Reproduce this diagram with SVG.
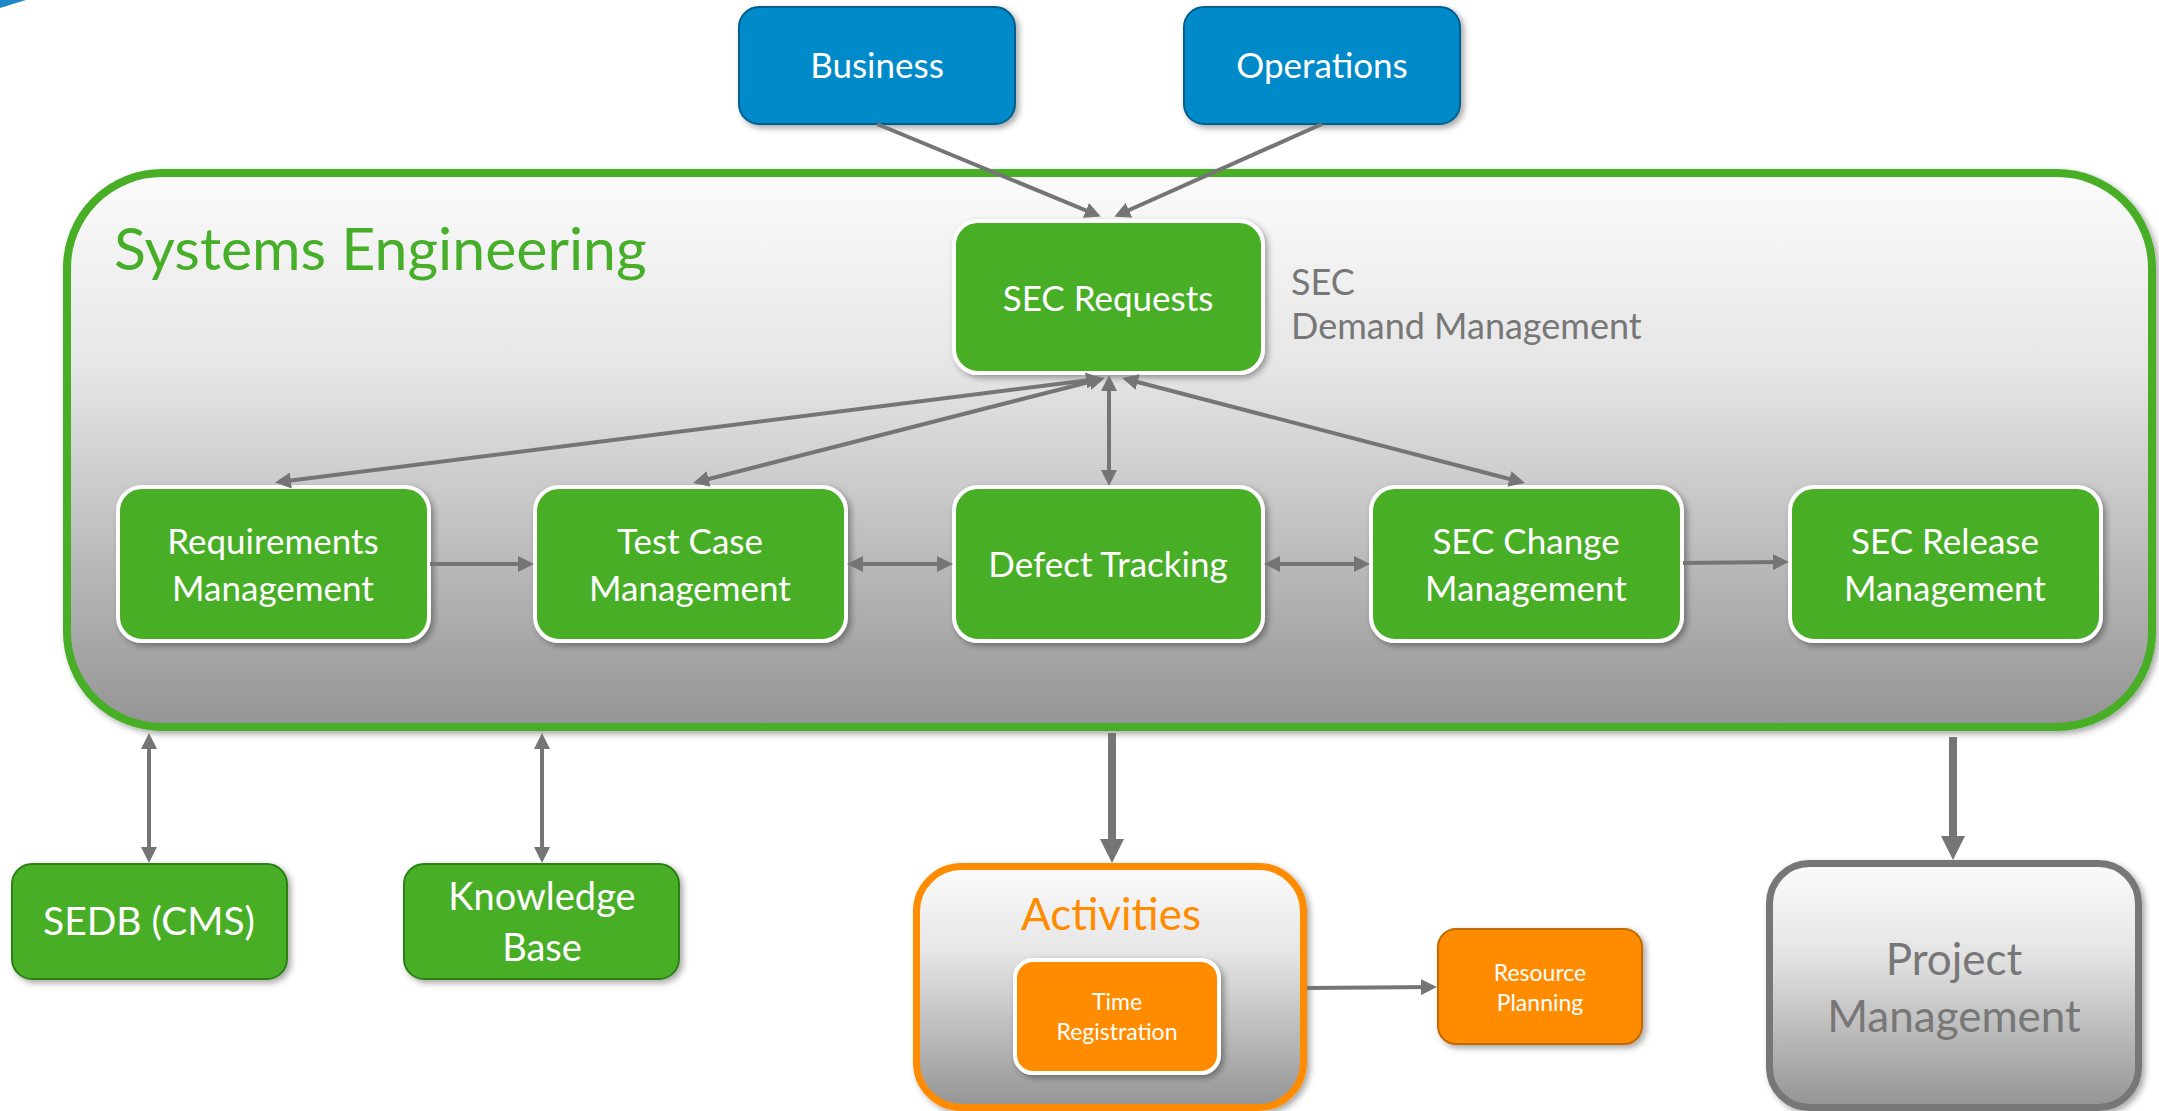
<svg xmlns="http://www.w3.org/2000/svg" width="2159" height="1111" viewBox="0 0 2159 1111">
<defs>
<linearGradient id="gray" x1="0" y1="0" x2="0" y2="1">
<stop offset="0" stop-color="#FBFBFB"/>
<stop offset="0.35" stop-color="#E6E6E6"/>
<stop offset="1" stop-color="#949494"/>
</linearGradient>
<filter id="sh" x="-10%" y="-10%" width="130%" height="130%">
<feDropShadow dx="3" dy="3" stdDeviation="3" flood-color="#000" flood-opacity="0.35"/>
</filter>
<marker id="ah" viewBox="0 0 16 16" refX="12" refY="8" markerWidth="16" markerHeight="16" markerUnits="userSpaceOnUse" orient="auto-start-reverse">
<path d="M0,0 L16,8 L0,16 z" fill="#757575"/>
</marker>
<marker id="ahb" viewBox="0 0 24 24" refX="16" refY="12" markerWidth="24" markerHeight="24" markerUnits="userSpaceOnUse" orient="auto">
<path d="M0,0 L24,12 L0,24 z" fill="#757575"/>
</marker>
<style>
text{font-family:Lato,"Open Sans","Liberation Sans",sans-serif;text-anchor:middle}
.w{fill:#FFFFFF}
.gn{fill:#46AE28;stroke:#FFFFFF;stroke-width:4}
.gd{fill:#46AE28;stroke:#2F7F19;stroke-width:2}
.bl{fill:#008AC9;stroke:#005F8E;stroke-width:2}
.or{fill:#FF8C00;stroke:#FFFFFF;stroke-width:4}
.ord{fill:#FF8C00;stroke:#C26A00;stroke-width:2}
.c{fill:none;stroke:#757575;stroke-width:4}
.cb{fill:none;stroke:#757575;stroke-width:8}
.lbl{font-size:35px;fill:#FFFFFF}
.sm{font-size:23px;fill:#FFFFFF}
</style>
</defs>
<rect width="2159" height="1111" fill="#FFFFFF"/>
<path d="M0,0 L26,0 L0,8 z" fill="#1E88C8"/>

<g id="systems-engineering">
<rect x="67" y="173" width="2085" height="554" rx="95" fill="url(#gray)" stroke="#46AE28" stroke-width="8" filter="url(#sh)"/>
<text x="114" y="270" style="text-anchor:start;font-size:59px;fill:#46AE28">Systems Engineering</text>
<text x="1291" y="295" style="text-anchor:start;font-size:36px;fill:#777777">SEC</text>
<text x="1291" y="339" style="text-anchor:start;font-size:36px;fill:#777777">Demand Management</text>
</g>

<g id="business">
<rect x="739" y="7" width="276" height="117" rx="20" class="bl" filter="url(#sh)"/>
<text x="877" y="78" class="lbl">Business</text>
</g>
<g id="operations">
<rect x="1184" y="7" width="276" height="117" rx="20" class="bl" filter="url(#sh)"/>
<text x="1322" y="78" class="lbl">Operations</text>
</g>

<g id="sec-requests">
<rect x="954" y="221" width="309" height="152" rx="24" class="gn" filter="url(#sh)"/>
<text x="1108" y="311" class="lbl">SEC Requests</text>
</g>
<g id="requirements-management">
<rect x="118" y="487" width="311" height="154" rx="24" class="gn" filter="url(#sh)"/>
<text x="273" y="554" class="lbl">Requirements</text>
<text x="273" y="601" class="lbl">Management</text>
</g>
<g id="test-case-management">
<rect x="535" y="487" width="311" height="154" rx="24" class="gn" filter="url(#sh)"/>
<text x="690" y="554" class="lbl">Test Case</text>
<text x="690" y="601" class="lbl">Management</text>
</g>
<g id="defect-tracking">
<rect x="954" y="487" width="309" height="154" rx="24" class="gn" filter="url(#sh)"/>
<text x="1108" y="577" class="lbl">Defect Tracking</text>
</g>
<g id="sec-change-management">
<rect x="1371" y="487" width="311" height="154" rx="24" class="gn" filter="url(#sh)"/>
<text x="1526" y="554" class="lbl">SEC Change</text>
<text x="1526" y="601" class="lbl">Management</text>
</g>
<g id="sec-release-management">
<rect x="1790" y="487" width="311" height="154" rx="24" class="gn" filter="url(#sh)"/>
<text x="1945" y="554" class="lbl">SEC Release</text>
<text x="1945" y="601" class="lbl">Management</text>
</g>

<g id="sedb">
<rect x="12" y="864" width="275" height="115" rx="20" class="gd" filter="url(#sh)"/>
<text x="149" y="935" style="font-size:39px" class="w">SEDB (CMS)</text>
</g>
<g id="knowledge-base">
<rect x="404" y="864" width="275" height="115" rx="20" class="gd" filter="url(#sh)"/>
<text x="542" y="910" style="font-size:38px" class="w">Knowledge</text>
<text x="542" y="961" style="font-size:38px" class="w">Base</text>
</g>

<g id="activities">
<rect x="916.5" y="866.5" width="387" height="241" rx="45" fill="url(#gray)" stroke="#FF8C00" stroke-width="7" filter="url(#sh)"/>
<text x="1111" y="930" style="font-size:44px;fill:#FF8C00">Activities</text>
</g>
<g id="time-registration">
<rect x="1015" y="960" width="204" height="113" rx="18" class="or" filter="url(#sh)"/>
<text x="1117" y="1010" class="sm">Time</text>
<text x="1117" y="1040" class="sm">Registration</text>
</g>
<g id="resource-planning">
<rect x="1438" y="929" width="204" height="115" rx="18" class="ord" filter="url(#sh)"/>
<text x="1540" y="981" class="sm">Resource</text>
<text x="1540" y="1011" class="sm">Planning</text>
</g>
<g id="project-management">
<rect x="1769.5" y="863.5" width="369" height="244" rx="40" fill="url(#gray)" stroke="#777777" stroke-width="7" filter="url(#sh)"/>
<text x="1954" y="975" style="font-size:44px;fill:#777777">Project</text>
<text x="1954" y="1032" style="font-size:44px;fill:#777777">Management</text>
</g>

<g id="connectors">
<line x1="877" y1="124" x2="1097" y2="215" class="c" marker-end="url(#ah)"/>
<line x1="1322" y1="124" x2="1118" y2="215" class="c" marker-end="url(#ah)"/>
<line x1="1098" y1="379" x2="279" y2="482" class="c" marker-start="url(#ah)" marker-end="url(#ah)"/>
<line x1="1101" y1="379" x2="697" y2="482" class="c" marker-start="url(#ah)" marker-end="url(#ah)"/>
<line x1="1109" y1="379" x2="1109" y2="482" class="c" marker-start="url(#ah)" marker-end="url(#ah)"/>
<line x1="1126" y1="379" x2="1521" y2="482" class="c" marker-start="url(#ah)" marker-end="url(#ah)"/>
<line x1="430" y1="564" x2="530" y2="564" class="c" marker-end="url(#ah)"/>
<line x1="851" y1="564" x2="949" y2="564" class="c" marker-start="url(#ah)" marker-end="url(#ah)"/>
<line x1="1268" y1="564" x2="1366" y2="564" class="c" marker-start="url(#ah)" marker-end="url(#ah)"/>
<line x1="1683" y1="563" x2="1785" y2="562" class="c" marker-end="url(#ah)"/>
<line x1="149" y1="737" x2="149" y2="859" class="c" marker-start="url(#ah)" marker-end="url(#ah)"/>
<line x1="542" y1="737" x2="542" y2="859" class="c" marker-start="url(#ah)" marker-end="url(#ah)"/>
<line x1="1112" y1="733" x2="1112" y2="855" class="cb" marker-end="url(#ahb)"/>
<line x1="1953" y1="737" x2="1953" y2="852" class="cb" marker-end="url(#ahb)"/>
<line x1="1307" y1="988" x2="1433" y2="987" class="c" marker-end="url(#ah)"/>
</g>
</svg>
